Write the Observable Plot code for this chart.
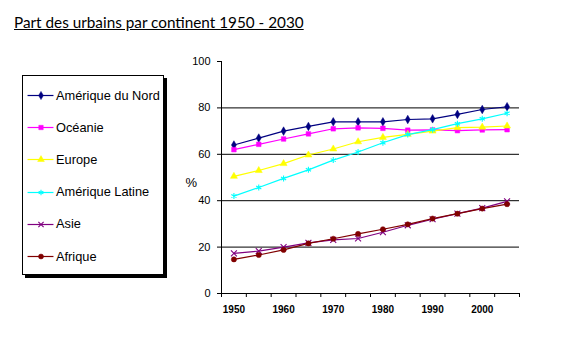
<!DOCTYPE html>
<html>
<head>
<meta charset="utf-8">
<script src="https://cdn.jsdelivr.net/npm/d3@7"></script>
<script src="https://cdn.jsdelivr.net/npm/@observablehq/plot@0.6"></script>
<style>
  body { margin: 0; background: #fff; }
  #wrap { position: relative; width: 571px; height: 345px; overflow: hidden; }
  #title { position: absolute; left: 14px; top: 13px; font-family: Lato, sans-serif; font-size: 15.3px; color: #000; text-decoration: underline; white-space: nowrap; }
  #legend { position: absolute; left: 22px; top: 75px; width: 140px; height: 198px; border: 1px solid #000; background: #fff; box-shadow: 3px 3px 0 #000; font-family: "Liberation Sans", Arial, sans-serif; font-size: 12.8px; }
  .item { position: absolute; left: 4px; height: 16px; display: flex; align-items: center; white-space: nowrap; }
  .item svg { margin-right: 2px; }
  #chart { position: absolute; left: 0; top: 0; }
</style>
</head>
<body>
<div id="wrap">
  <div id="chart"></div>
  <div id="title">Part des urbains par continent 1950 - 2030</div>
  <div id="legend"></div>
</div>
<script>
const years = [1950, 1955, 1960, 1965, 1970, 1975, 1980, 1985, 1990, 1995, 2000, 2005];
const seriesNames = ["Amérique du Nord", "Océanie", "Europe", "Amérique Latine", "Asie", "Afrique"];
const ameriqueNord = [64, 67, 70, 72, 74, 74, 74, 75, 75.3, 77.2, 79.3, 80.5];
const oceanie = [62, 64.3, 66.6, 68.8, 71, 71.4, 71.2, 70.4, 70.5, 70.2, 70.5, 70.6];
const europe = [50.5, 53, 56, 59.7, 62.3, 65.4, 67.3, 68.6, 70, 71.5, 71.7, 72.2];
const ameriqueLatine = [42, 45.7, 49.6, 53.3, 57.5, 61, 65, 68.5, 70.6, 73.2, 75.3, 77.7];
const asie = [17.3, 18.3, 20, 21.8, 23.1, 23.7, 26.4, 29.4, 32, 34.4, 36.8, 39.7];
const afrique = [14.7, 16.6, 18.8, 21.6, 23.6, 25.7, 27.7, 29.8, 32.3, 34.4, 36.6, 38.5];
const yTicks = [0, 20, 40, 60, 80, 100];
const xLabels = [1950, 1960, 1970, 1980, 1990, 2000];

const seriesValues = [ameriqueNord, oceanie, europe, ameriqueLatine, asie, afrique];
const colors = ["#000080", "#ff00ff", "#ffff00", "#00ffff", "#800080", "#800000"];
const symbols = ["diamond", "square", "triangle", "asterisk", "times", "circle"];

const series = seriesNames.map((name, i) => ({
  name, color: colors[i], symbol: symbols[i],
  data: years.map((y, j) => ({year: y, value: seriesValues[i][j]}))
}));

const x0 = years[0] - 2.5, x1 = years[years.length - 1] + 2.5;
const boundaries = d3.range(years.length + 1).map(k => x0 + 5 * k);
const isOpen = s => s.symbol === "times" || s.symbol === "asterisk";

const marks = [
  Plot.ruleY([20, 40, 60, 80], {x1: x0, x2: x1, stroke: "#000", strokeWidth: 1}),
  Plot.axisY({ticks: yTicks, tickSize: 4, tickPadding: 7, fontSize: 11, fontFamily: "Liberation Sans, Arial, sans-serif", label: null}),
  Plot.axisX({ticks: boundaries, tickSize: 4, tickFormat: () => "", label: null}),
  Plot.axisX({ticks: xLabels, tickSize: 0, tickPadding: 12, fontSize: 10, fontWeight: "bold", fontFamily: "Liberation Sans, Arial, sans-serif", tickFormat: d => String(d), label: null}),
  Plot.ruleX([x0], {y1: 0, y2: 100, stroke: "#000"}),
  Plot.ruleY([0], {x1: x0, x2: x1, stroke: "#000"}),
  Plot.text(["%"], {frameAnchor: "left", dx: -36, y: 50, dy: 5, fontSize: 13, fontFamily: "Liberation Sans, Arial, sans-serif"})
];
for (const s of series) {
  marks.push(Plot.line(s.data, {x: "year", y: "value", stroke: s.color, strokeWidth: 1.2}));
  marks.push(Plot.dot(s.data, {x: "year", y: "value", symbol: () => s.symbol, r: isOpen(s) ? 2.8 : 2.6,
    fill: isOpen(s) ? "none" : s.color, stroke: s.color, strokeWidth: isOpen(s) ? 1.1 : 0.5}));
}

const chart = Plot.plot({
  width: 571, height: 345,
  marginLeft: 221, marginRight: 52, marginTop: 61, marginBottom: 52,
  x: {type: "linear", domain: [x0, x1]},
  y: {domain: [0, 100]},
  symbol: {type: "identity"},
  style: {background: "transparent", color: "#000"},
  marks
});
document.getElementById("chart").appendChild(chart);

const legend = document.getElementById("legend");
series.forEach((s, i) => {
  const item = document.createElement("div");
  item.className = "item";
  item.style.top = (11 + i * 32.2) + "px";
  const sw = Plot.plot({
    width: 27, height: 14, margin: 0,
    x: {domain: [0, 1], axis: null}, y: {domain: [0, 1], axis: null},
    symbol: {type: "identity"},
    style: {background: "transparent"},
    marks: [
      Plot.ruleY([0.5], {x1: 0.02, x2: 0.98, stroke: s.color, strokeWidth: 1.2}),
      Plot.dot([0.5], {x: d => d, y: 0.5, symbol: () => s.symbol, r: 2.5,
        fill: isOpen(s) ? "none" : s.color, stroke: s.color, strokeWidth: isOpen(s) ? 1.1 : 0.5})
    ]
  });
  item.appendChild(sw);
  const t = document.createElement("span");
  t.textContent = s.name;
  item.appendChild(t);
  legend.appendChild(item);
});
</script>
</body>
</html>
